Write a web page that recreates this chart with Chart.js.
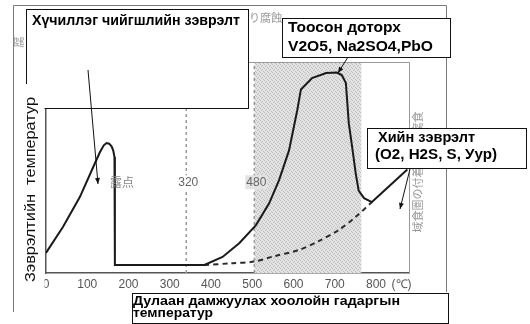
<!DOCTYPE html>
<html>
<head>
<meta charset="utf-8">
<script src="https://cdn.jsdelivr.net/npm/chart.js@4.4.0/dist/chart.umd.min.js"></script>
<style>
  html, body { margin: 0; padding: 0; background: #fff; }
  canvas { display: block; }
</style>
</head>
<body>
<canvas id="chart" width="530" height="324"></canvas>
<script>
// values (x = °C, y = relative corrosion level 0..100)
const solidTemp  = [0, 41, 82, 114, 130, 140, 147, 153, 159, 163, 166, 167, 167, 384, 428, 469, 509, 541, 565, 589, 609, 618, 645, 679, 705, 717, 727, 734, 742, 751, 758, 771, 790, 876];
const solidLevel = [9.5, 21.8, 36, 50, 57, 60.5, 61.6, 61.3, 60, 58, 55, 50, 3.8, 3.8, 7.6, 14.2, 22.7, 33, 44, 58, 77, 87, 92.4, 94.8, 95, 93.8, 90, 71, 60, 47, 39, 35.5, 33.6, 49];

const dewTemp  = [384, 450, 505, 550, 613, 660, 710, 750, 790];
const dewLevel = [3.8, 4.6, 5.4, 7.8, 10.9, 15, 20.4, 26.5, 33.6];

const guideTemps  = [340, 505];
const guideLabels = ['320', '480'];

const zoneTemps = [505, 765];

const tickTemps  = [0, 100, 200, 300, 400, 500, 600, 700, 800, 862];
const tickLabels = ['0', '100', '200', '300', '400', '500', '600', '700', '800', '(℃)'];

const pts = (xs, ys) => xs.map((x, i) => ({ x: x, y: ys[i] }));

const canvas = document.getElementById('chart');
const ctx = canvas.getContext('2d');

// stippled grey for the shaded band
function stipple() {
    const p = document.createElement('canvas');
    p.width = 4; p.height = 4;
    const g = p.getContext('2d');
    g.fillStyle = '#e3e3e3';
    g.fillRect(0, 0, 4, 4);
    g.fillStyle = '#bcbcbc';
    [[0, 0], [2, 1], [1, 2], [3, 3]].forEach(([a, b]) => g.fillRect(a, b, 1, 1));
    return ctx.createPattern(p, 'repeat');
}

function fitText(c, txt, x, y, w, font) {
    c.save();
    c.font = font;
    const m = c.measureText(txt).width;
    c.translate(x, y);
    c.scale(w / m, 1);
    c.fillText(txt, 0, 0);
    c.restore();
}

function arrow(c, x1, y1, x2, y2) {
    const a = Math.atan2(y2 - y1, x2 - x1);
    c.save();
    c.strokeStyle = '#111';
    c.fillStyle = '#111';
    c.lineWidth = 1;
    c.beginPath();
    c.moveTo(x1, y1);
    c.lineTo(x2, y2);
    c.stroke();
    c.beginPath();
    c.moveTo(x2, y2);
    c.lineTo(x2 - 6 * Math.cos(a) + 2.5 * Math.sin(a), y2 - 6 * Math.sin(a) - 2.5 * Math.cos(a));
    c.lineTo(x2 - 6 * Math.cos(a) - 2.5 * Math.sin(a), y2 - 6 * Math.sin(a) + 2.5 * Math.cos(a));
    c.closePath();
    c.fill();
    c.restore();
}

function box(c, x, y, w, h) {
    c.save();
    c.fillStyle = '#fff';
    c.fillRect(x, y, w, h);
    c.strokeStyle = '#111';
    c.lineWidth = 1;
    c.strokeRect(x + 0.5, y + 0.5, w, h);
    c.restore();
}

const overlay = {
    id: 'overlay',
    beforeDraw(chart) {
        const c = chart.ctx;
        c.save();
        c.fillStyle = '#fff';
        c.fillRect(0, 0, chart.width, chart.height);
        // outer frame of the scanned figure
        c.strokeStyle = '#7a7a7a';
        c.lineWidth = 1;
        c.beginPath();
        c.moveTo(13.5, 312); c.lineTo(13.5, 5.5); c.lineTo(446.5, 5.5); c.lineTo(446.5, 292);
        c.stroke();
        c.restore();
    },
    afterDatasetsDraw(chart) {
        const c = chart.ctx;
        const a = chart.chartArea;
        const xs = chart.scales.x, ys = chart.scales.y;
        c.save();
        c.strokeStyle = '#999';
        c.lineWidth = 1;
        c.beginPath();
        c.moveTo(a.left, a.top + 0.5); c.lineTo(a.right + 0.5, a.top + 0.5); c.lineTo(a.right + 0.5, a.bottom);
        c.stroke();

        // labels on the guide lines
        c.font = '12px "Liberation Sans", Arial, sans-serif';
        c.textAlign = 'center';
        c.textBaseline = 'middle';
        const ly = ys.getPixelForValue(43);
        guideTemps.forEach((t, i) => {
            const px = xs.getPixelForValue(t) + 2;
            const w = c.measureText(guideLabels[i]).width;
            c.fillStyle = i === 0 ? '#fff' : '#e3e3e3';
            c.fillRect(px - w / 2 - 1, ly - 7, w + 2, 14);
            c.fillStyle = '#666';
            c.fillText(guideLabels[i], px, ly);
        });
        c.fillStyle = '#888';
        c.font = '12px "Noto Sans CJK JP", sans-serif';
        c.fillText('露点', xs.getPixelForValue(184), ly);

        // leftover Japanese from the scan
        c.font = '11px "Noto Sans CJK JP", sans-serif';
        c.fillStyle = '#999';
        c.textAlign = 'right';
        c.fillText('り腐蝕', 282, 18);
        c.save();
        c.translate(418, 172);
        c.rotate(-Math.PI / 2);
        c.textAlign = 'center';
        c.fillText('域食圏の付着による腐食', 0, 0);
        c.restore();
        c.save();
        c.translate(19, 42);
        c.rotate(-Math.PI / 2);
        c.textAlign = 'center';
        c.fillText('腐', 0, 0);
        c.restore();
        c.restore();
    },
    afterDraw(chart) {
        const c = chart.ctx;
        const bold = (s) => 'bold ' + s + 'px "Liberation Sans", Arial, sans-serif';
        c.save();
        c.fillStyle = '#000';
        c.textBaseline = 'middle';
        c.textAlign = 'left';

        box(c, 26, 9, 222, 99);
        fitText(c, 'Хүчиллэг чийгшлийн зэврэлт', 32, 21, 208, bold(15));

        box(c, 282, 18, 168, 39);
        fitText(c, 'Тоосон доторх', 288, 28, 113, bold(14));
        fitText(c, 'V2O5, Na2SO4,PbO', 288, 47, 145, bold(14));

        box(c, 367, 128, 159, 40);
        fitText(c, 'Хийн зэврэлт', 378, 138, 97, bold(14));
        fitText(c, '(O2, H2S, S, Уур)', 375, 155, 122, bold(14));

        box(c, 132, 293, 316, 30);
        fitText(c, 'Дулаан дамжуулах хоолойн гадаргын', 133, 301, 267, bold(13));
        fitText(c, 'температур', 133, 313, 80, bold(13));

        // y-axis title with its white backing
        c.fillStyle = '#fff';
        c.fillRect(15, 84, 29.5, 206);
        c.fillStyle = '#111';
        c.save();
        c.translate(31, 190);
        c.rotate(-Math.PI / 2);
        fitText(c, 'Зэврэлтийн  температур', -92, 0, 185, '15px "Liberation Sans", Arial, sans-serif');
        c.restore();

        arrow(c, 88, 70, 98, 184);
        arrow(c, 348, 57, 338, 73);
        arrow(c, 410, 169, 400, 209);
        c.restore();
    }
};

new Chart(canvas, {
    type: 'line',
    data: {
        datasets: [
            {
                data: pts(solidTemp, solidLevel),
                borderColor: '#1a1a1a',
                borderWidth: 2,
                pointRadius: 0,
                tension: 0,
                fill: false
            },
            {
                data: pts(dewTemp, dewLevel),
                borderColor: '#2a2a2a',
                borderWidth: 2,
                borderDash: [5, 4],
                pointRadius: 0,
                tension: 0.3,
                fill: false
            },
            {
                data: guideTemps.flatMap(t => [{ x: t, y: 0 }, { x: t, y: 100 }, { x: NaN, y: NaN }]),
                borderColor: '#9a9a9a',
                borderWidth: 1.5,
                borderDash: [3, 3],
                pointRadius: 0,
                spanGaps: false,
                fill: false
            },
            {
                data: zoneTemps.map(t => ({ x: t, y: 100 })),
                borderWidth: 0,
                pointRadius: 0,
                backgroundColor: stipple(),
                fill: 'origin'
            }
        ]
    },
    options: {
        responsive: false,
        animation: false,
        devicePixelRatio: 1,
        layout: { padding: { left: 46, top: 62, right: 121, bottom: 29 } },
        plugins: {
            legend: { display: false },
            tooltip: { enabled: false }
        },
        scales: {
            x: {
                type: 'linear',
                min: 0,
                max: 880,
                afterBuildTicks: s => { s.ticks = tickTemps.map(v => ({ value: v })); },
                afterFit: s => { s.height = 22; },
                grid: { display: false, drawTicks: false },
                border: { display: true, color: '#555', width: 1.5 },
                ticks: {
                    padding: 4,
                    color: '#555',
                    maxRotation: 0,
                    autoSkip: false,
                    font: { family: '"Liberation Sans", Arial, sans-serif', size: 12 },
                    callback: (v, i) => tickLabels[i]
                }
            },
            y: {
                min: 0,
                max: 100,
                afterFit: s => { s.width = 0; },
                grid: { display: false, drawTicks: false },
                border: { display: true, color: '#555', width: 1.5 },
                ticks: { display: false }
            }
        }
    },
    plugins: [overlay]
});
</script>
</body>
</html>
